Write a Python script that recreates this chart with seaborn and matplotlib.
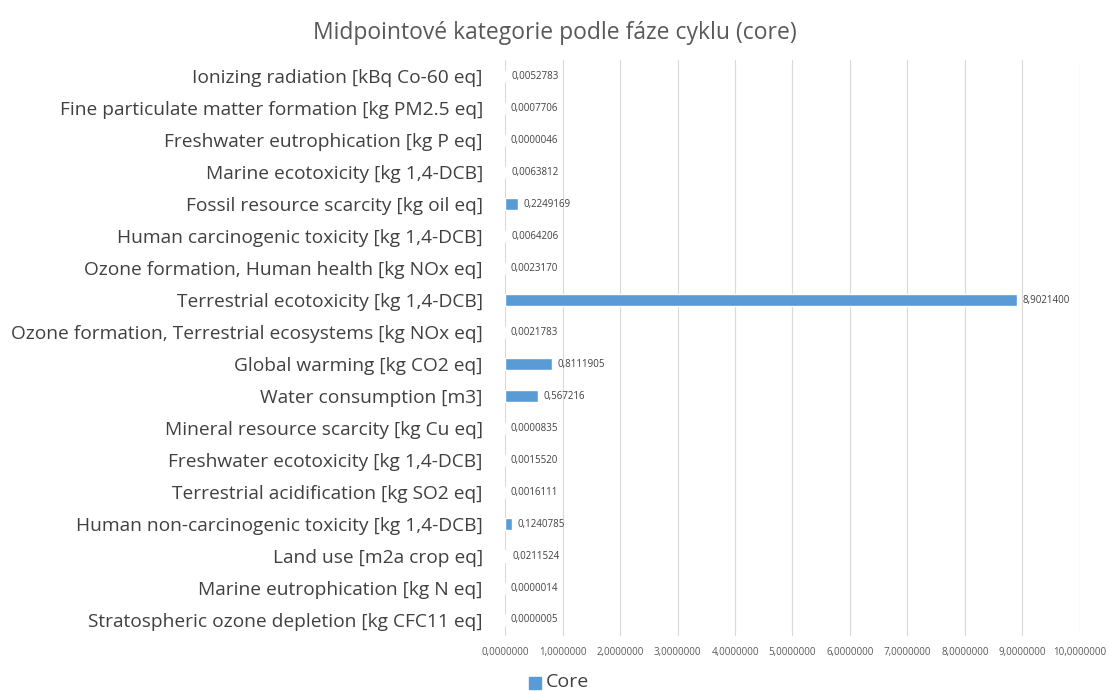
import numpy as np
import pandas as pd
import matplotlib
matplotlib.use("Agg")
import matplotlib.pyplot as plt
import seaborn as sns

# data (top to bottom as in the chart)
categories = [
    "Ionizing radiation [kBq Co-60 eq]",
    "Fine particulate matter formation [kg PM2.5 eq]",
    "Freshwater eutrophication [kg P eq]",
    "Marine ecotoxicity [kg 1,4-DCB]",
    "Fossil resource scarcity [kg oil eq]",
    "Human carcinogenic toxicity [kg 1,4-DCB]",
    "Ozone formation, Human health [kg NOx eq]",
    "Terrestrial ecotoxicity [kg 1,4-DCB]",
    "Ozone formation, Terrestrial ecosystems [kg NOx eq]",
    "Global warming [kg CO2 eq]",
    "Water consumption [m3]",
    "Mineral resource scarcity [kg Cu eq]",
    "Freshwater ecotoxicity [kg 1,4-DCB]",
    "Terrestrial acidification [kg SO2 eq]",
    "Human non-carcinogenic toxicity [kg 1,4-DCB]",
    "Land use [m2a crop eq]",
    "Marine eutrophication [kg N eq]",
    "Stratospheric ozone depletion [kg CFC11 eq]",
]
value_labels = [
    "0,0052783", "0,0007706", "0,0000046", "0,0063812", "0,2249169",
    "0,0064206", "0,0023170", "8,9021400", "0,0021783", "0,8111905",
    "0,567216", "0,0000835", "0,0015520", "0,0016111", "0,1240785",
    "0,0211524", "0,0000014", "0,0000005",
]
values = [float(s.replace(",", ".")) for s in value_labels]
x_ticks = list(range(0, 11))

df = pd.DataFrame({"kategorie": categories, "Core": values})

sns.set_style("white")
plt.rcParams["font.family"] = ["Open Sans", "DejaVu Sans"]

fig = plt.figure(figsize=(11.09, 6.91), dpi=100)
ax = fig.add_axes([0.4554, 0.0796, 0.5184, 0.8334])

sns.barplot(data=df, y="kategorie", x="Core", orient="h", color="#5B9BD5",
            width=0.38, saturation=1, ax=ax, zorder=3)

ax.set_xlim(0, 10)
ax.set_xticks(x_ticks)
ax.set_xticklabels([f"{t},0000000" for t in x_ticks], fontsize=7, color="#595959")
ax.tick_params(axis="x", length=0, pad=8)
ax.tick_params(axis="y", length=0, pad=16, labelsize=13.8, labelcolor="#404040")
ax.xaxis.grid(True, color="#D9D9D9", linewidth=0.8, zorder=0)
ax.yaxis.grid(False)
for s in ax.spines.values():
    s.set_visible(False)
ax.set_xlabel("")
ax.set_ylabel("")

for i, (v, lab) in enumerate(zip(values, value_labels)):
    ax.text(v + 0.1, i, lab, va="center", ha="left", fontsize=7, color="#404040")

fig.suptitle("Midpointové kategorie podle fáze cyklu (core)", x=0.5, y=1 - 33 / 691,
             va="center", fontsize=16.5, color="#595959")

# legend
fig.patches.append(plt.Rectangle((529 / 1109, 1 - 689 / 691), 12 / 1109, 12 / 691,
                                 transform=fig.transFigure, color="#5B9BD5"))
fig.text(546 / 1109, 1 - 682 / 691, "Core", fontsize=14, color="#404040", va="center")

fig.savefig("out.png", dpi=100)
